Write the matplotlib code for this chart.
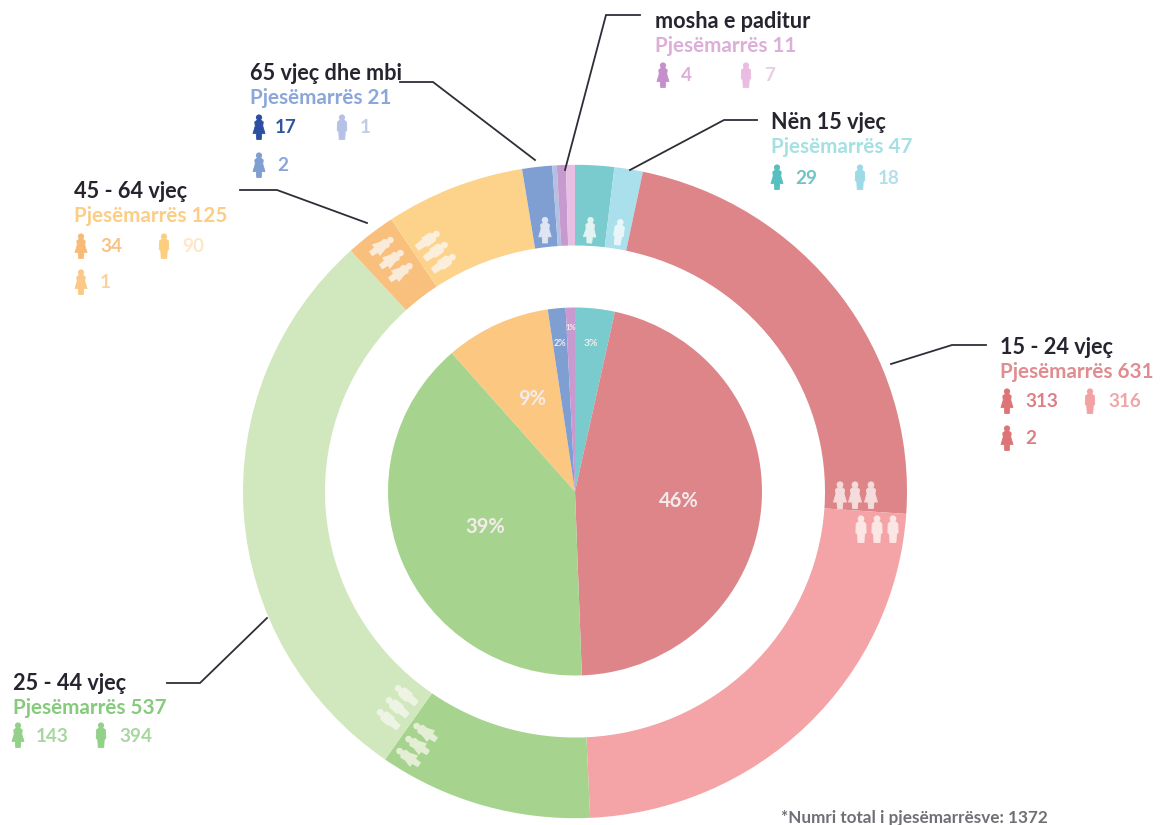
import numpy as np
import matplotlib
matplotlib.use("Agg")
import matplotlib.pyplot as plt
from matplotlib.patches import Polygon, Circle

plt.rcParams['font.family'] = ['Lato', 'DejaVu Sans']

# ---- data ----
age_groups = ["Nën 15 vjeç", "15 - 24 vjeç", "25 - 44 vjeç", "45 - 64 vjeç", "65 vjeç dhe mbi", "mosha e paditur"]
participants = [47, 631, 537, 125, 21, 11]
ring_values = [26, 19, 313, 318, 143, 391, 34, 93, 20, 3, 6, 6]
pie_colors = ["#79cbcd", "#dd8589", "#a6d48e", "#fbc781", "#7f9fd2", "#c99ad0"]
ring_colors = ["#79cbcd", "#aadfec", "#dd8589", "#f4a3a6", "#a6d48e", "#d1e8bf",
               "#f9bf7d", "#fdd38b", "#7f9fd2", "#b3c0e3", "#c79acf", "#e8bfe2"]
pct_radius = [151, 104, 97, 103, 151, 167]
pct_size = [7.5, 14.5, 14.5, 14.5, 6.5, 5.5]

W, H = 1160, 825
CX, CY = 575, 491.5
S = 0.984  # the reference circles are slightly flattened

fig = plt.figure(figsize=(W / 100, H / 100), dpi=100)
ax = fig.add_axes([0, 0, 1, 1])


def Y(y):
    return (H - y) / S


ring, _ = ax.pie(ring_values, colors=ring_colors, startangle=90, counterclock=False,
                 center=(CX, Y(CY)), radius=332, frame=True,
                 wedgeprops=dict(width=82, linewidth=0.3, edgecolor='none'))
wedges, _ = ax.pie(participants, colors=pie_colors, startangle=90, counterclock=False,
                   center=(CX, Y(CY)), radius=187, frame=True,
                   wedgeprops=dict(linewidth=0))
ax.set_xlim(0, W)
ax.set_ylim(0, H / S)
ax.set_aspect('auto')
ax.axis('off')

total = sum(participants)
for w, val, r, fs in zip(wedges, participants, pct_radius, pct_size):
    a = np.deg2rad((w.theta1 + w.theta2) / 2)
    ax.text(CX + r * np.cos(a), Y(CY) + r * np.sin(a), f"{100 * val / total:.0f}%",
            color="#f3ecec", fontsize=fs, fontweight='bold', ha='center', va='center', zorder=5)

DRESS = np.array([[-.07, .78], [.07, .78], [.17, .70], [.15, .54], [.24, .24], [.11, .24], [.09, 0],
                  [-.09, 0], [-.11, .24], [-.24, .24], [-.15, .54], [-.17, .70]])
PANTS = np.array([[-.08, .78], [.08, .78], [.18, .70], [.19, .36], [.13, .32], [.11, 0],
                  [-.11, 0], [-.13, .32], [-.19, .36], [-.18, .70]])


def person(x, y, h, color, rot=0, kind='d', z=6):
    """x, y = icon centre in image pixels, rot = clockwise degrees."""
    t = np.deg2rad(-rot)
    R = np.array([[np.cos(t), -np.sin(t)], [np.sin(t), np.cos(t)]])
    base = (DRESS if kind == 'd' else PANTS) - [0, .5]
    pts = (base @ R.T * h) * [1, 1 / S] + [x, Y(y)]
    ax.add_patch(Polygon(pts, closed=True, fc=color, ec=color, lw=0.6, joinstyle='round', zorder=z))
    head = (R @ np.array([0, .88 - .5]) * h) * [1, 1 / S] + [x, Y(y)]
    ax.add_patch(Circle(head, .125 * h, fc=color, ec='none', zorder=z))


# ---- icons on the ring ----
for x in (840, 855, 871):
    person(x, 495, 27, "#f4dcdc", 0, 'd')
for x in (861, 877, 893):
    person(x, 529, 27, "#fbe6e4", 0, 'p')
for x, y in ((425, 732), (417, 745), (408, 757)):
    person(x, y, 27, "#e4eed4", -55, 'd')
for x, y in ((406, 695), (397, 707), (388, 719)):
    person(x, y, 27, "#eef4e4", -50, 'p')
for x, y in ((382, 246), (392, 259), (401, 272)):
    person(x, y, 27, "#faebd9", 55, 'd')
for x, y in ((428, 240), (436, 251), (444, 263)):
    person(x, y, 27, "#fbefdc", 55, 'p')
person(545, 230, 26, "#dfe6f2", 0, 'd')
person(590, 230, 26, "#e2f3f2", 3, 'd')
person(619, 232, 26, "#e9f6f9", 8, 'p')

# ---- leader lines ----
DARK = "#2e2e38"
leaders = [
    ([640, 606, 565], [15, 15, 170]),
    ([400, 433, 535], [82, 82, 160]),
    ([240, 277, 367], [190, 190, 223]),
    ([757, 724, 630], [120, 120, 170]),
    ([986, 952, 891], [345, 345, 364]),
    ([167, 200, 267], [683, 683, 618]),
]
for xs, ys in leaders:
    ax.plot(xs, [Y(v) for v in ys], color=DARK, lw=1.3, solid_joinstyle='miter', zorder=4)

# ---- labels ----
TITLE = 15.6
SUB = 14.9
NUM = 13.6


def label(x, y, title, sub, subc, items, dy=24.5):
    ax.text(x, Y(y + 1.5), title, fontsize=TITLE, fontweight='bold', color="#26242e", va='center', ha='left')
    ax.text(x, Y(y + dy + 1.5), sub, fontsize=SUB, fontweight='bold', color=subc, va='center', ha='left')
    for ix, iy, tx, val, c, tc, kind in items:
        person(ix, iy, 25, c, 0, kind)
        ax.text(tx, Y(iy + 1), val, fontsize=NUM, fontweight='bold', color=tc, va='center', ha='left')


label(655, 20, age_groups[5], "Pjesëmarrës 11", "#dcaed8", [
    (663, 75, 681, "4", "#c48fcb", "#dcaed8", 'd'),
    (746, 75, 764, "7", "#e9bde1", "#eccbe7", 'p')])
label(771, 121, age_groups[0], "Pjesëmarrës 47", "#a5e0e3", [
    (777, 177, 795, "29", "#58bfc0", "#6cc5c6", 'd'),
    (860, 177, 878, "18", "#9ed9e8", "#b1e0eb", 'p')])
label(1000, 346, age_groups[1], "Pjesëmarrës 631", "#e08c90", [
    (1007, 401, 1025, "313", "#dd7478", "#dd7f84", 'd'),
    (1090, 401, 1108, "316", "#f3a2a4", "#f0a6a8", 'p'),
    (1007, 438, 1025, "2", "#dd7478", "#dd7f84", 'd')])
label(13, 682, age_groups[2], "Pjesëmarrës 537", "#85cb7b", [
    (18, 735, 36, "143", "#93d089", "#a7d79e", 'd'),
    (101, 735, 119, "394", "#93d089", "#a7d79e", 'p')])
label(74, 190, age_groups[3], "Pjesëmarrës 125", "#fbcd85", [
    (81, 246, 100, "34", "#f8bb75", "#f9c283", 'd'),
    (164, 246, 182, "90", "#fccf80", "#fde7c6", 'p'),
    (81, 282, 100, "1", "#fbc985", "#fbd39a", 'd')])
label(250, 72, age_groups[4], "Pjesëmarrës 21", "#8ba7da", [
    (259, 127, 275, "17", "#2c4fa3", "#33549f", 'd'),
    (342, 127, 360, "1", "#b4c2e6", "#c0cbe8", 'p'),
    (259, 165, 277, "2", "#7f9ed2", "#8aa5d6", 'd')])

ax.text(781, Y(818), "*Numri total i pjesëmarrësve: 1372", fontsize=12.3, fontweight='bold',
        color="#6f6f75", va='center', ha='left')

fig.savefig("out.png", dpi=100, facecolor='white')
